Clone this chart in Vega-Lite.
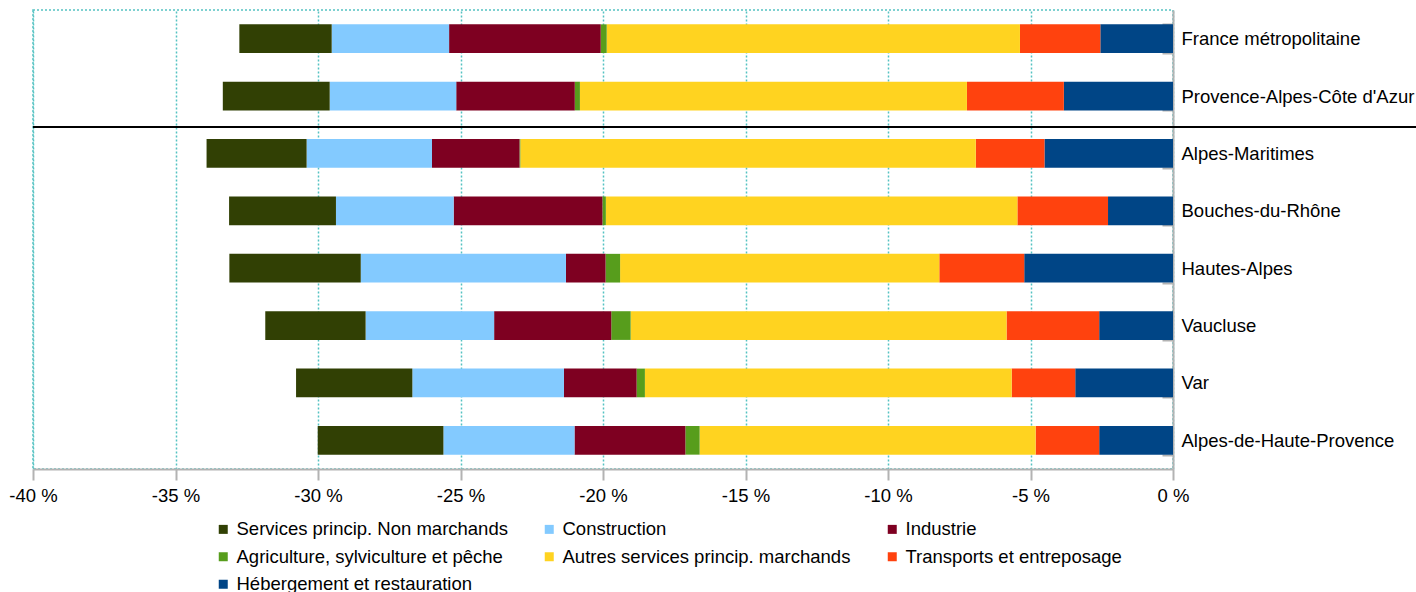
{
  "$schema": "https://vega.github.io/schema/vega-lite/v6.json",
  "width": 1140,
  "height": 459,
  "autosize": {"type": "none"},
  "padding": {"left": 33, "top": 10, "right": 243, "bottom": 123},
  "background": "white",
  "config": {
    "font": "Liberation Sans",
    "view": {"stroke": "#55c2c2", "strokeDash": [2, 2], "strokeWidth": 1.5}
  },
  "datasets": {
    "ordre": [
      {"secteur": "Hébergement et restauration", "rang": 1},
      {"secteur": "Transports et entreposage", "rang": 2},
      {"secteur": "Autres services princip. marchands", "rang": 3},
      {"secteur": "Agriculture, sylviculture et pêche", "rang": 4},
      {"secteur": "Industrie", "rang": 5},
      {"secteur": "Construction", "rang": 6},
      {"secteur": "Services princip. Non marchands", "rang": 7}
    ],
    "valeurs": [
      {"zone": "France métropolitaine", "secteur": "Hébergement et restauration", "valeur": -2.55},
      {"zone": "France métropolitaine", "secteur": "Transports et entreposage", "valeur": -2.82},
      {"zone": "France métropolitaine", "secteur": "Autres services princip. marchands", "valeur": -14.50},
      {"zone": "France métropolitaine", "secteur": "Agriculture, sylviculture et pêche", "valeur": -0.21},
      {"zone": "France métropolitaine", "secteur": "Industrie", "valeur": -5.32},
      {"zone": "France métropolitaine", "secteur": "Construction", "valeur": -4.12},
      {"zone": "France métropolitaine", "secteur": "Services princip. Non marchands", "valeur": -3.24},

      {"zone": "Provence-Alpes-Côte d'Azur", "secteur": "Hébergement et restauration", "valeur": -3.83},
      {"zone": "Provence-Alpes-Côte d'Azur", "secteur": "Transports et entreposage", "valeur": -3.40},
      {"zone": "Provence-Alpes-Côte d'Azur", "secteur": "Autres services princip. marchands", "valeur": -13.58},
      {"zone": "Provence-Alpes-Côte d'Azur", "secteur": "Agriculture, sylviculture et pêche", "valeur": -0.18},
      {"zone": "Provence-Alpes-Côte d'Azur", "secteur": "Industrie", "valeur": -4.16},
      {"zone": "Provence-Alpes-Côte d'Azur", "secteur": "Construction", "valeur": -4.44},
      {"zone": "Provence-Alpes-Côte d'Azur", "secteur": "Services princip. Non marchands", "valeur": -3.75},

      {"zone": "Alpes-Maritimes", "secteur": "Hébergement et restauration", "valeur": -4.51},
      {"zone": "Alpes-Maritimes", "secteur": "Transports et entreposage", "valeur": -2.41},
      {"zone": "Alpes-Maritimes", "secteur": "Autres services princip. marchands", "valeur": -15.98},
      {"zone": "Alpes-Maritimes", "secteur": "Agriculture, sylviculture et pêche", "valeur": -0.03},
      {"zone": "Alpes-Maritimes", "secteur": "Industrie", "valeur": -3.07},
      {"zone": "Alpes-Maritimes", "secteur": "Construction", "valeur": -4.40},
      {"zone": "Alpes-Maritimes", "secteur": "Services princip. Non marchands", "valeur": -3.51},

      {"zone": "Bouches-du-Rhône", "secteur": "Hébergement et restauration", "valeur": -2.28},
      {"zone": "Bouches-du-Rhône", "secteur": "Transports et entreposage", "valeur": -3.18},
      {"zone": "Bouches-du-Rhône", "secteur": "Autres services princip. marchands", "valeur": -14.44},
      {"zone": "Bouches-du-Rhône", "secteur": "Agriculture, sylviculture et pêche", "valeur": -0.12},
      {"zone": "Bouches-du-Rhône", "secteur": "Industrie", "valeur": -5.22},
      {"zone": "Bouches-du-Rhône", "secteur": "Construction", "valeur": -4.13},
      {"zone": "Bouches-du-Rhône", "secteur": "Services princip. Non marchands", "valeur": -3.75},

      {"zone": "Hautes-Alpes", "secteur": "Hébergement et restauration", "valeur": -5.22},
      {"zone": "Hautes-Alpes", "secteur": "Transports et entreposage", "valeur": -2.98},
      {"zone": "Hautes-Alpes", "secteur": "Autres services princip. marchands", "valeur": -11.20},
      {"zone": "Hautes-Alpes", "secteur": "Agriculture, sylviculture et pêche", "valeur": -0.51},
      {"zone": "Hautes-Alpes", "secteur": "Industrie", "valeur": -1.39},
      {"zone": "Hautes-Alpes", "secteur": "Construction", "valeur": -7.20},
      {"zone": "Hautes-Alpes", "secteur": "Services princip. Non marchands", "valeur": -4.61},

      {"zone": "Vaucluse", "secteur": "Hébergement et restauration", "valeur": -2.59},
      {"zone": "Vaucluse", "secteur": "Transports et entreposage", "valeur": -3.25},
      {"zone": "Vaucluse", "secteur": "Autres services princip. marchands", "valeur": -13.19},
      {"zone": "Vaucluse", "secteur": "Agriculture, sylviculture et pêche", "valeur": -0.68},
      {"zone": "Vaucluse", "secteur": "Industrie", "valeur": -4.11},
      {"zone": "Vaucluse", "secteur": "Construction", "valeur": -4.51},
      {"zone": "Vaucluse", "secteur": "Services princip. Non marchands", "valeur": -3.52},

      {"zone": "Var", "secteur": "Hébergement et restauration", "valeur": -3.43},
      {"zone": "Var", "secteur": "Transports et entreposage", "valeur": -2.23},
      {"zone": "Var", "secteur": "Autres services princip. marchands", "valeur": -12.87},
      {"zone": "Var", "secteur": "Agriculture, sylviculture et pêche", "valeur": -0.29},
      {"zone": "Var", "secteur": "Industrie", "valeur": -2.55},
      {"zone": "Var", "secteur": "Construction", "valeur": -5.32},
      {"zone": "Var", "secteur": "Services princip. Non marchands", "valeur": -4.08},

      {"zone": "Alpes-de-Haute-Provence", "secteur": "Hébergement et restauration", "valeur": -2.59},
      {"zone": "Alpes-de-Haute-Provence", "secteur": "Transports et entreposage", "valeur": -2.23},
      {"zone": "Alpes-de-Haute-Provence", "secteur": "Autres services princip. marchands", "valeur": -11.79},
      {"zone": "Alpes-de-Haute-Provence", "secteur": "Agriculture, sylviculture et pêche", "valeur": -0.50},
      {"zone": "Alpes-de-Haute-Provence", "secteur": "Industrie", "valeur": -3.89},
      {"zone": "Alpes-de-Haute-Provence", "secteur": "Construction", "valeur": -4.60},
      {"zone": "Alpes-de-Haute-Provence", "secteur": "Services princip. Non marchands", "valeur": -4.41}
    ]
  },
  "layer": [
    {
      "data": {"name": "valeurs"},
      "transform": [
        {"lookup": "secteur", "from": {"data": {"name": "ordre"}, "key": "secteur", "fields": ["rang"]}}
      ],
      "mark": {"type": "bar"},
      "encoding": {
        "y": {
          "field": "zone",
          "type": "nominal",
          "sort": ["France métropolitaine", "Provence-Alpes-Côte d'Azur", "Alpes-Maritimes", "Bouches-du-Rhône", "Hautes-Alpes", "Vaucluse", "Var", "Alpes-de-Haute-Provence"],
          "scale": {"paddingInner": 0.5, "paddingOuter": 0.25},
          "axis": {
            "orient": "right",
            "title": null,
            "grid": false,
            "tickBand": "extent",
            "tickSize": -11,
            "tickColor": "#b3b3b3",
            "tickWidth": 2,
            "domainColor": "#b3b3b3",
            "domainWidth": 2,
            "labelPadding": 19,
            "labelFontSize": 18.5,
            "labelColor": "black",
            "labelLimit": 400
          }
        },
        "x": {
          "field": "valeur",
          "type": "quantitative",
          "stack": "zero",
          "scale": {"domain": [-40, 0], "nice": false},
          "axis": {
            "title": null,
            "values": [-40, -35, -30, -25, -20, -15, -10, -5, 0],
            "labelExpr": "datum.value + ' %'",
            "labelFlush": false,
            "grid": true,
            "gridColor": "#55c2c2",
            "gridDash": [2, 2],
            "gridWidth": 1.5,
            "domainColor": "#b3b3b3",
            "domainWidth": 2,
            "tickColor": "#b3b3b3",
            "tickSize": 11,
            "tickWidth": 2,
            "labelFontSize": 18.5,
            "labelColor": "black",
            "labelPadding": 6
          }
        },
        "color": {
          "field": "secteur",
          "type": "nominal",
          "scale": {
            "domain": ["Services princip. Non marchands", "Construction", "Industrie", "Agriculture, sylviculture et pêche", "Autres services princip. marchands", "Transports et entreposage", "Hébergement et restauration"],
            "range": ["#314004", "#83caff", "#7e0021", "#579d1c", "#ffd320", "#ff420e", "#004586"]
          },
          "legend": {
            "orient": "none",
            "legendX": 181,
            "legendY": 510,
            "direction": "horizontal",
            "columns": 3,
            "title": null,
            "symbolType": "square",
            "symbolSize": 81,
            "symbolStrokeWidth": 0,
            "labelFontSize": 18.5,
            "labelColor": "black",
            "labelOffset": 4,
            "labelLimit": 400,
            "columnPadding": 32,
            "rowPadding": 8.5,
            "padding": 0
          }
        },
        "order": {"field": "rang", "type": "quantitative", "sort": "ascending"}
      }
    },
    {
      "data": {"values": [{}]},
      "mark": {"type": "rule", "color": "black", "strokeWidth": 2, "yOffset": -26.5},
      "encoding": {
        "y": {"datum": "Alpes-Maritimes", "type": "nominal"},
        "x": {"datum": -40, "type": "quantitative"},
        "x2": {"datum": 8.53}
      }
    }
  ]
}
